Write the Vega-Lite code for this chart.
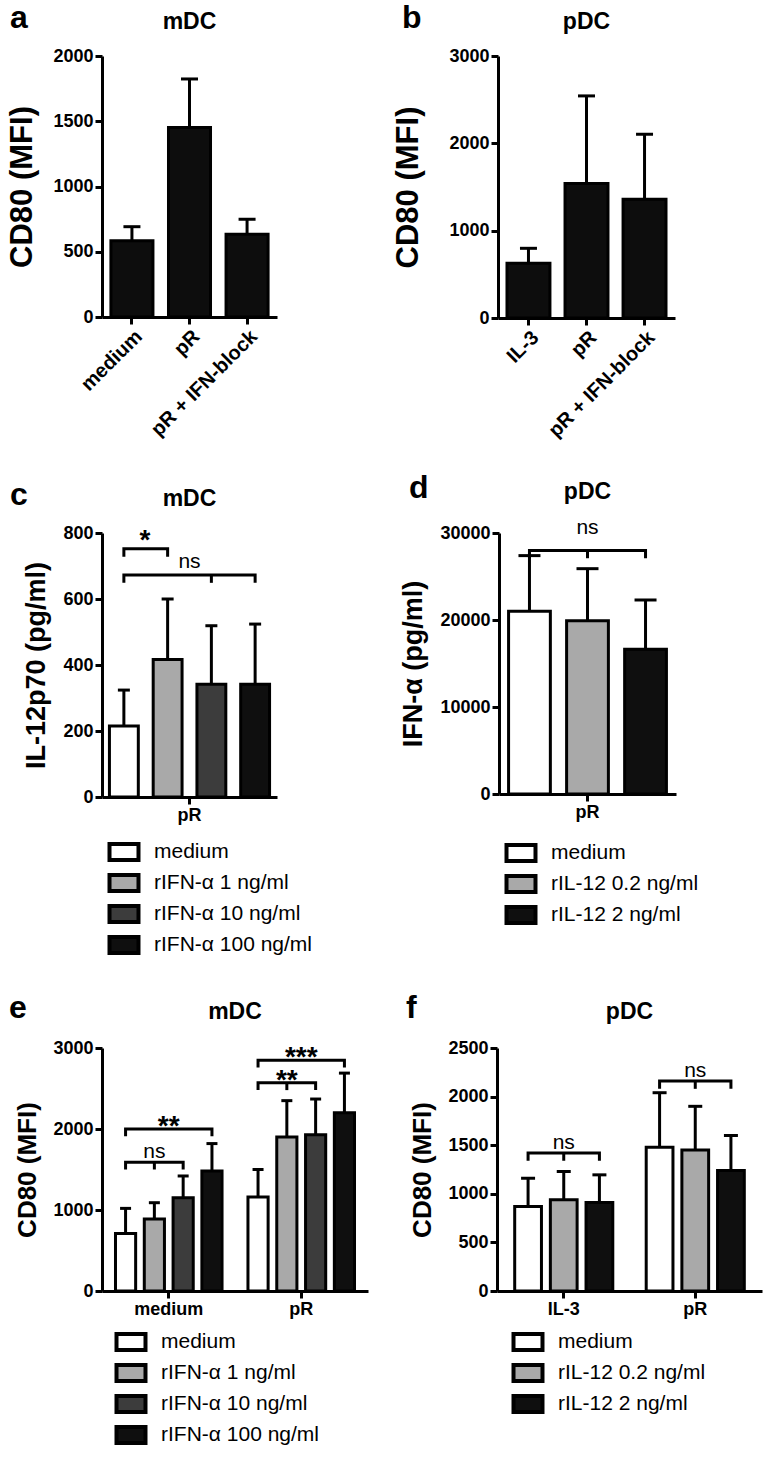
{
  "$schema": "https://vega.github.io/schema/vega-lite/v6.json",
  "background": "white",
  "padding": {"left": 6, "top": 2, "right": 2, "bottom": 2},
  "spacing": 31,
  "resolve": {"scale": {"x": "independent", "y": "independent", "xOffset": "independent", "fill": "independent"}, "legend": {"fill": "independent"}},
  "datasets": {
    "a": [
      {"cond": "medium", "mean": 585, "upper": 692},
      {"cond": "pR", "mean": 1453, "upper": 1824},
      {"cond": "pR + IFN-block", "mean": 634, "upper": 749}
    ],
    "b": [
      {"cond": "IL-3", "mean": 626, "upper": 798},
      {"cond": "pR", "mean": 1541, "upper": 2543},
      {"cond": "pR + IFN-block", "mean": 1360, "upper": 2104}
    ],
    "c": [
      {"g": "pR", "t": "medium", "mean": 215, "upper": 324},
      {"g": "pR", "t": "rIFN-α 1 ng/ml", "mean": 417, "upper": 600},
      {"g": "pR", "t": "rIFN-α 10 ng/ml", "mean": 342, "upper": 519},
      {"g": "pR", "t": "rIFN-α 100 ng/ml", "mean": 342, "upper": 524}
    ],
    "c_br": [
      {"id": "s1", "g": "pR", "t": "medium", "v": 728, "o": 1},
      {"id": "s1", "g": "pR", "t": "medium", "v": 752, "o": 2},
      {"id": "s1", "g": "pR", "t": "rIFN-α 1 ng/ml", "v": 752, "o": 3},
      {"id": "s1", "g": "pR", "t": "rIFN-α 1 ng/ml", "v": 728, "o": 4},
      {"id": "n1", "g": "pR", "t": "medium", "v": 649, "o": 1},
      {"id": "n1", "g": "pR", "t": "medium", "v": 673, "o": 2},
      {"id": "n1", "g": "pR", "t": "rIFN-α 100 ng/ml", "v": 673, "o": 3},
      {"id": "n1", "g": "pR", "t": "rIFN-α 100 ng/ml", "v": 649, "o": 4},
      {"id": "n1m", "g": "pR", "t": "rIFN-α 10 ng/ml", "v": 673, "o": 1},
      {"id": "n1m", "g": "pR", "t": "rIFN-α 10 ng/ml", "v": 649, "o": 2}
    ],
    "d": [
      {"g": "pR", "t": "medium", "mean": 21000, "upper": 27400},
      {"g": "pR", "t": "rIL-12 0.2 ng/ml", "mean": 19900, "upper": 25900},
      {"g": "pR", "t": "rIL-12 2 ng/ml", "mean": 16650, "upper": 22300}
    ],
    "d_br": [
      {"id": "n1", "g": "pR", "t": "medium", "v": 27100, "o": 1},
      {"id": "n1", "g": "pR", "t": "medium", "v": 28000, "o": 2},
      {"id": "n1", "g": "pR", "t": "rIL-12 2 ng/ml", "v": 28000, "o": 3},
      {"id": "n1", "g": "pR", "t": "rIL-12 2 ng/ml", "v": 27100, "o": 4},
      {"id": "n1m", "g": "pR", "t": "rIL-12 0.2 ng/ml", "v": 28000, "o": 1},
      {"id": "n1m", "g": "pR", "t": "rIL-12 0.2 ng/ml", "v": 27100, "o": 2}
    ],
    "e": [
      {"g": "medium", "t": "medium", "mean": 710, "upper": 1020},
      {"g": "medium", "t": "rIFN-α 1 ng/ml", "mean": 890, "upper": 1090},
      {"g": "medium", "t": "rIFN-α 10 ng/ml", "mean": 1150, "upper": 1420},
      {"g": "medium", "t": "rIFN-α 100 ng/ml", "mean": 1480, "upper": 1820},
      {"g": "pR", "t": "medium", "mean": 1160, "upper": 1500},
      {"g": "pR", "t": "rIFN-α 1 ng/ml", "mean": 1900, "upper": 2350},
      {"g": "pR", "t": "rIFN-α 10 ng/ml", "mean": 1930, "upper": 2370},
      {"g": "pR", "t": "rIFN-α 100 ng/ml", "mean": 2200, "upper": 2690}
    ],
    "e_br": [
      {"id": "m1", "g": "medium", "t": "medium", "v": 1500, "o": 1},
      {"id": "m1", "g": "medium", "t": "medium", "v": 1590, "o": 2},
      {"id": "m1", "g": "medium", "t": "rIFN-α 10 ng/ml", "v": 1590, "o": 3},
      {"id": "m1", "g": "medium", "t": "rIFN-α 10 ng/ml", "v": 1500, "o": 4},
      {"id": "m1m", "g": "medium", "t": "rIFN-α 1 ng/ml", "v": 1590, "o": 1},
      {"id": "m1m", "g": "medium", "t": "rIFN-α 1 ng/ml", "v": 1500, "o": 2},
      {"id": "m2", "g": "medium", "t": "medium", "v": 1910, "o": 1},
      {"id": "m2", "g": "medium", "t": "medium", "v": 2000, "o": 2},
      {"id": "m2", "g": "medium", "t": "rIFN-α 100 ng/ml", "v": 2000, "o": 3},
      {"id": "m2", "g": "medium", "t": "rIFN-α 100 ng/ml", "v": 1910, "o": 4},
      {"id": "p1", "g": "pR", "t": "medium", "v": 2480, "o": 1},
      {"id": "p1", "g": "pR", "t": "medium", "v": 2570, "o": 2},
      {"id": "p1", "g": "pR", "t": "rIFN-α 10 ng/ml", "v": 2570, "o": 3},
      {"id": "p1", "g": "pR", "t": "rIFN-α 10 ng/ml", "v": 2480, "o": 4},
      {"id": "p1m", "g": "pR", "t": "rIFN-α 1 ng/ml", "v": 2570, "o": 1},
      {"id": "p1m", "g": "pR", "t": "rIFN-α 1 ng/ml", "v": 2480, "o": 2},
      {"id": "p2", "g": "pR", "t": "medium", "v": 2760, "o": 1},
      {"id": "p2", "g": "pR", "t": "medium", "v": 2850, "o": 2},
      {"id": "p2", "g": "pR", "t": "rIFN-α 100 ng/ml", "v": 2850, "o": 3},
      {"id": "p2", "g": "pR", "t": "rIFN-α 100 ng/ml", "v": 2760, "o": 4}
    ],
    "f": [
      {"g": "IL-3", "t": "medium", "mean": 870, "upper": 1160},
      {"g": "IL-3", "t": "rIL-12 0.2 ng/ml", "mean": 940, "upper": 1230},
      {"g": "IL-3", "t": "rIL-12 2 ng/ml", "mean": 910, "upper": 1195},
      {"g": "pR", "t": "medium", "mean": 1480, "upper": 2040},
      {"g": "pR", "t": "rIL-12 0.2 ng/ml", "mean": 1450, "upper": 1900},
      {"g": "pR", "t": "rIL-12 2 ng/ml", "mean": 1240, "upper": 1600}
    ],
    "f_br": [
      {"id": "i1", "g": "IL-3", "t": "medium", "v": 1340, "o": 1},
      {"id": "i1", "g": "IL-3", "t": "medium", "v": 1420, "o": 2},
      {"id": "i1", "g": "IL-3", "t": "rIL-12 2 ng/ml", "v": 1420, "o": 3},
      {"id": "i1", "g": "IL-3", "t": "rIL-12 2 ng/ml", "v": 1340, "o": 4},
      {"id": "i1m", "g": "IL-3", "t": "rIL-12 0.2 ng/ml", "v": 1420, "o": 1},
      {"id": "i1m", "g": "IL-3", "t": "rIL-12 0.2 ng/ml", "v": 1340, "o": 2},
      {"id": "p1", "g": "pR", "t": "medium", "v": 2080, "o": 1},
      {"id": "p1", "g": "pR", "t": "medium", "v": 2160, "o": 2},
      {"id": "p1", "g": "pR", "t": "rIL-12 2 ng/ml", "v": 2160, "o": 3},
      {"id": "p1", "g": "pR", "t": "rIL-12 2 ng/ml", "v": 2080, "o": 4},
      {"id": "p1m", "g": "pR", "t": "rIL-12 0.2 ng/ml", "v": 2160, "o": 1},
      {"id": "p1m", "g": "pR", "t": "rIL-12 0.2 ng/ml", "v": 2080, "o": 2}
    ]
  },
  "vconcat": [
    {
      "spacing": 115,
      "resolve": {"scale": {"x": "independent", "y": "independent", "xOffset": "independent", "fill": "independent"}, "legend": {"fill": "independent"}},
      "hconcat": [
        {
          "title": {"text": "a", "anchor": "start", "frame": "bounds", "fontSize": 32, "offset": -24, "dx": 3},
          "vconcat": [
            {
              "width": 175, "height": 261,
              "title": {"text": "mDC", "fontSize": 23, "anchor": "middle", "offset": 13},
              "data": {"name": "a"},
              "layer": [
                {"mark": {"type": "bar", "fill": "#0d0d0d", "stroke": "#000", "strokeWidth": 3},
                 "encoding": {
                   "x": {"field": "cond", "type": "nominal", "sort": null, "title": null,
                         "scale": {"paddingInner": 0.27, "paddingOuter": 0.155},
                         "axis": {"labelAngle": -45, "labelFontSize": 20}},
                   "y": {"field": "mean", "type": "quantitative", "title": "CD80 (MFI)",
                         "scale": {"domain": [0, 2000], "nice": false},
                         "axis": {"values": [0, 500, 1000, 1500, 2000], "format": "d", "titleFontSize": 31, "titlePadding": 14}}}},
                {"mark": {"type": "rule", "color": "#000", "strokeWidth": 3},
                 "encoding": {
                   "x": {"field": "cond", "type": "nominal", "sort": null, "title": null},
                   "y": {"field": "mean", "type": "quantitative", "title": "CD80 (MFI)"},
                   "y2": {"field": "upper"}}},
                {"mark": {"type": "tick", "color": "#000", "opacity": 1, "thickness": 3, "size": 17},
                 "encoding": {
                   "x": {"field": "cond", "type": "nominal", "sort": null, "title": null},
                   "y": {"field": "upper", "type": "quantitative", "title": "CD80 (MFI)"}}}
              ]
            }
          ]
        },
        {
          "title": {"text": "b", "anchor": "start", "frame": "bounds", "fontSize": 32, "offset": -24, "dx": 9},
          "vconcat": [
            {
              "width": 177, "height": 262,
              "title": {"text": "pDC", "fontSize": 23, "anchor": "middle", "offset": 13},
              "data": {"name": "b"},
              "layer": [
                {"mark": {"type": "bar", "fill": "#0d0d0d", "stroke": "#000", "strokeWidth": 3},
                 "encoding": {
                   "x": {"field": "cond", "type": "nominal", "sort": null, "title": null,
                         "scale": {"paddingInner": 0.26, "paddingOuter": 0.155},
                         "axis": {"labelAngle": -45, "labelFontSize": 20}},
                   "y": {"field": "mean", "type": "quantitative", "title": "CD80 (MFI)",
                         "scale": {"domain": [0, 3000], "nice": false},
                         "axis": {"values": [0, 1000, 2000, 3000], "format": "d", "titleFontSize": 31, "titlePadding": 24}}}},
                {"mark": {"type": "rule", "color": "#000", "strokeWidth": 3},
                 "encoding": {
                   "x": {"field": "cond", "type": "nominal", "sort": null, "title": null},
                   "y": {"field": "mean", "type": "quantitative", "title": "CD80 (MFI)"},
                   "y2": {"field": "upper"}}},
                {"mark": {"type": "tick", "color": "#000", "opacity": 1, "thickness": 3, "size": 17},
                 "encoding": {
                   "x": {"field": "cond", "type": "nominal", "sort": null, "title": null},
                   "y": {"field": "upper", "type": "quantitative", "title": "CD80 (MFI)"}}}
              ]
            }
          ]
        }
      ]
    },
    {
      "spacing": 86,
      "resolve": {"scale": {"x": "independent", "y": "independent", "xOffset": "independent", "fill": "independent"}, "legend": {"fill": "independent"}},
      "hconcat": [
        {
          "title": {"text": "c", "anchor": "start", "frame": "bounds", "fontSize": 32, "offset": -24, "dx": -13},
          "resolve": {"scale": {"fill": "independent", "xOffset": "independent"}, "legend": {"fill": "independent"}},
          "vconcat": [
            {
              "width": 175, "height": 264,
              "title": {"text": "mDC", "fontSize": 23, "anchor": "middle", "offset": 13},
              "layer": [
                {"data": {"name": "c"},
                 "mark": {"type": "bar", "stroke": "#000", "strokeWidth": 3},
                 "encoding": {
                   "x": {"field": "g", "type": "nominal", "title": null, "scale": {"paddingInner": 0, "paddingOuter": 0}},
                   "xOffset": {"field": "t", "type": "nominal", "sort": null, "scale": {"domain": ["medium", "rIFN-α 1 ng/ml", "rIFN-α 10 ng/ml", "rIFN-α 100 ng/ml"], "paddingInner": 0.34, "paddingOuter": 0.17}},
                   "y": {"field": "mean", "type": "quantitative", "title": "IL-12p70 (pg/ml)",
                         "scale": {"domain": [0, 800], "nice": false},
                         "axis": {"values": [0, 200, 400, 600, 800], "format": "d", "titleFontSize": 27, "titlePadding": 12}},
                   "fill": {"field": "t", "type": "nominal", "sort": null,
                            "scale": {"domain": ["medium", "rIFN-α 1 ng/ml", "rIFN-α 10 ng/ml", "rIFN-α 100 ng/ml"], "range": ["#ffffff", "#a9a9a9", "#3c3c3c", "#0f0f0f"]},
                            "legend": {"orient": "none", "legendX": 7, "legendY": 304}}}},
                {"data": {"name": "c"},
                 "mark": {"type": "rule", "color": "#000", "strokeWidth": 3},
                 "encoding": {
                   "x": {"field": "g", "type": "nominal", "title": null},
                   "xOffset": {"field": "t", "type": "nominal", "sort": null},
                   "y": {"field": "mean", "type": "quantitative", "title": "IL-12p70 (pg/ml)"},
                   "y2": {"field": "upper"}}},
                {"data": {"name": "c"},
                 "mark": {"type": "tick", "color": "#000", "opacity": 1, "thickness": 3, "size": 12},
                 "encoding": {
                   "x": {"field": "g", "type": "nominal", "title": null},
                   "xOffset": {"field": "t", "type": "nominal", "sort": null},
                   "y": {"field": "upper", "type": "quantitative", "title": "IL-12p70 (pg/ml)"}}},
                {"data": {"name": "c_br"},
                 "mark": {"type": "line", "color": "#000", "strokeWidth": 3},
                 "encoding": {
                   "x": {"field": "g", "type": "nominal", "title": null},
                   "xOffset": {"field": "t", "type": "nominal", "sort": null},
                   "y": {"field": "v", "type": "quantitative", "title": "IL-12p70 (pg/ml)"},
                   "detail": {"field": "id"},
                   "order": {"field": "o"}}},
                {"data": {"values": [{"g": "pR", "label": "ns", "v": 673}]},
                 "mark": {"type": "text", "color": "#000", "fontSize": 21, "baseline": "alphabetic", "dy": -7},
                 "encoding": {
                   "x": {"field": "g", "type": "nominal", "title": null},
                   "y": {"field": "v", "type": "quantitative", "title": "IL-12p70 (pg/ml)"},
                   "text": {"field": "label"}}},
                {"data": {"values": [{"g": "pR", "t": "medium", "label": "*", "v": 752}]},
                 "mark": {"type": "text", "color": "#000", "fontSize": 28, "fontWeight": "bold", "baseline": "middle", "dy": -8, "dx": 21},
                 "encoding": {
                   "x": {"field": "g", "type": "nominal", "title": null},
                   "xOffset": {"field": "t", "type": "nominal", "sort": null},
                   "y": {"field": "v", "type": "quantitative", "title": "IL-12p70 (pg/ml)"},
                   "text": {"field": "label"}}}
              ]
            }
          ]
        },
        {
          "title": {"text": "d", "anchor": "start", "frame": "bounds", "fontSize": 32, "offset": -24, "dx": 9},
          "resolve": {"scale": {"fill": "independent", "xOffset": "independent"}, "legend": {"fill": "independent"}},
          "vconcat": [
            {
              "width": 177, "height": 261,
              "title": {"text": "pDC", "fontSize": 23, "anchor": "middle", "offset": 13},
              "layer": [
                {"data": {"name": "d"},
                 "mark": {"type": "bar", "stroke": "#000", "strokeWidth": 3},
                 "encoding": {
                   "x": {"field": "g", "type": "nominal", "title": null, "scale": {"paddingInner": 0, "paddingOuter": 0}},
                   "xOffset": {"field": "t", "type": "nominal", "sort": null, "scale": {"domain": ["medium", "rIL-12 0.2 ng/ml", "rIL-12 2 ng/ml"], "paddingInner": 0.28, "paddingOuter": 0.165}},
                   "y": {"field": "mean", "type": "quantitative", "title": "IFN-α (pg/ml)",
                         "scale": {"domain": [0, 30000], "nice": false},
                         "axis": {"values": [0, 10000, 20000, 30000], "format": "d", "titleFontSize": 27, "titlePadding": 12}},
                   "fill": {"field": "t", "type": "nominal", "sort": null,
                            "scale": {"domain": ["medium", "rIL-12 0.2 ng/ml", "rIL-12 2 ng/ml"], "range": ["#ffffff", "#a9a9a9", "#0f0f0f"]},
                            "legend": {"orient": "none", "legendX": 7, "legendY": 305}}}},
                {"data": {"name": "d"},
                 "mark": {"type": "rule", "color": "#000", "strokeWidth": 3},
                 "encoding": {
                   "x": {"field": "g", "type": "nominal", "title": null},
                   "xOffset": {"field": "t", "type": "nominal", "sort": null},
                   "y": {"field": "mean", "type": "quantitative", "title": "IFN-α (pg/ml)"},
                   "y2": {"field": "upper"}}},
                {"data": {"name": "d"},
                 "mark": {"type": "tick", "color": "#000", "opacity": 1, "thickness": 3, "size": 22},
                 "encoding": {
                   "x": {"field": "g", "type": "nominal", "title": null},
                   "xOffset": {"field": "t", "type": "nominal", "sort": null},
                   "y": {"field": "upper", "type": "quantitative", "title": "IFN-α (pg/ml)"}}},
                {"data": {"name": "d_br"},
                 "mark": {"type": "line", "color": "#000", "strokeWidth": 3},
                 "encoding": {
                   "x": {"field": "g", "type": "nominal", "title": null},
                   "xOffset": {"field": "t", "type": "nominal", "sort": null},
                   "y": {"field": "v", "type": "quantitative", "title": "IFN-α (pg/ml)"},
                   "detail": {"field": "id"},
                   "order": {"field": "o"}}},
                {"data": {"values": [{"g": "pR", "t": "rIL-12 0.2 ng/ml", "label": "ns", "v": 28000}]},
                 "mark": {"type": "text", "color": "#000", "fontSize": 21, "baseline": "alphabetic", "dy": -16},
                 "encoding": {
                   "x": {"field": "g", "type": "nominal", "title": null},
                   "xOffset": {"field": "t", "type": "nominal", "sort": null},
                   "y": {"field": "v", "type": "quantitative", "title": "IFN-α (pg/ml)"},
                   "text": {"field": "label"}}}
              ]
            }
          ]
        }
      ]
    },
    {
      "spacing": 37,
      "resolve": {"scale": {"x": "independent", "y": "independent", "xOffset": "independent", "fill": "independent"}, "legend": {"fill": "independent"}},
      "hconcat": [
        {
          "title": {"text": "e", "anchor": "start", "frame": "bounds", "fontSize": 32, "offset": -24, "dx": -6},
          "resolve": {"scale": {"fill": "independent", "xOffset": "independent"}, "legend": {"fill": "independent"}},
          "vconcat": [
            {
              "width": 266, "height": 243,
              "title": {"text": "mDC", "fontSize": 23, "anchor": "middle", "offset": 15},
              "layer": [
                {"data": {"name": "e"},
                 "mark": {"type": "bar", "stroke": "#000", "strokeWidth": 3},
                 "encoding": {
                   "x": {"field": "g", "type": "nominal", "sort": null, "title": null, "scale": {"paddingInner": 0.174, "paddingOuter": 0.091}},
                   "xOffset": {"field": "t", "type": "nominal", "sort": null, "scale": {"domain": ["medium", "rIFN-α 1 ng/ml", "rIFN-α 10 ng/ml", "rIFN-α 100 ng/ml"], "paddingInner": 0.3, "paddingOuter": 0.05}},
                   "y": {"field": "mean", "type": "quantitative", "title": "CD80 (MFI)",
                         "scale": {"domain": [0, 3000], "nice": false},
                         "axis": {"values": [0, 1000, 2000, 3000], "format": "d", "titleFontSize": 26, "titlePadding": 12}},
                   "fill": {"field": "t", "type": "nominal", "sort": null,
                            "scale": {"domain": ["medium", "rIFN-α 1 ng/ml", "rIFN-α 10 ng/ml", "rIFN-α 100 ng/ml"], "range": ["#ffffff", "#a9a9a9", "#3c3c3c", "#0f0f0f"]},
                            "legend": {"orient": "none", "legendX": 14, "legendY": 279}}}},
                {"data": {"name": "e"},
                 "mark": {"type": "rule", "color": "#000", "strokeWidth": 3},
                 "encoding": {
                   "x": {"field": "g", "type": "nominal", "sort": null, "title": null},
                   "xOffset": {"field": "t", "type": "nominal", "sort": null},
                   "y": {"field": "mean", "type": "quantitative", "title": "CD80 (MFI)"},
                   "y2": {"field": "upper"}}},
                {"data": {"name": "e"},
                 "mark": {"type": "tick", "color": "#000", "opacity": 1, "thickness": 3, "size": 11},
                 "encoding": {
                   "x": {"field": "g", "type": "nominal", "sort": null, "title": null},
                   "xOffset": {"field": "t", "type": "nominal", "sort": null},
                   "y": {"field": "upper", "type": "quantitative", "title": "CD80 (MFI)"}}},
                {"data": {"name": "e_br"},
                 "mark": {"type": "line", "color": "#000", "strokeWidth": 3},
                 "encoding": {
                   "x": {"field": "g", "type": "nominal", "sort": null, "title": null},
                   "xOffset": {"field": "t", "type": "nominal", "sort": null},
                   "y": {"field": "v", "type": "quantitative", "title": "CD80 (MFI)"},
                   "detail": {"field": "id"},
                   "order": {"field": "o"}}},
                {"data": {"values": [{"g": "medium", "t": "rIFN-α 1 ng/ml", "label": "ns", "v": 1590}]},
                 "mark": {"type": "text", "color": "#000", "fontSize": 21, "baseline": "alphabetic", "dy": -4},
                 "encoding": {
                   "x": {"field": "g", "type": "nominal", "sort": null, "title": null},
                   "xOffset": {"field": "t", "type": "nominal", "sort": null},
                   "y": {"field": "v", "type": "quantitative", "title": "CD80 (MFI)"},
                   "text": {"field": "label"}}},
                {"data": {"values": [{"g": "pR", "t": "rIFN-α 1 ng/ml", "label": "**", "v": 2570}]},
                 "mark": {"type": "text", "color": "#000", "fontSize": 28, "fontWeight": "bold", "baseline": "middle", "dy": -2},
                 "encoding": {
                   "x": {"field": "g", "type": "nominal", "sort": null, "title": null},
                   "xOffset": {"field": "t", "type": "nominal", "sort": null},
                   "y": {"field": "v", "type": "quantitative", "title": "CD80 (MFI)"},
                   "text": {"field": "label"}}},
                {"data": {"values": [{"g": "medium", "label": "**", "v": 2000}, {"g": "pR", "label": "***", "v": 2850}]},
                 "mark": {"type": "text", "color": "#000", "fontSize": 28, "fontWeight": "bold", "baseline": "middle", "dy": -2},
                 "encoding": {
                   "x": {"field": "g", "type": "nominal", "sort": null, "title": null},
                   "y": {"field": "v", "type": "quantitative", "title": "CD80 (MFI)"},
                   "text": {"field": "label"}}}
              ]
            }
          ]
        },
        {
          "title": {"text": "f", "anchor": "start", "frame": "bounds", "fontSize": 32, "offset": -24, "dx": -4},
          "resolve": {"scale": {"fill": "independent", "xOffset": "independent"}, "legend": {"fill": "independent"}},
          "vconcat": [
            {
              "width": 265, "height": 243,
              "title": {"text": "pDC", "fontSize": 23, "anchor": "middle", "offset": 15},
              "layer": [
                {"data": {"name": "f"},
                 "mark": {"type": "bar", "stroke": "#000", "strokeWidth": 3},
                 "encoding": {
                   "x": {"field": "g", "type": "nominal", "sort": null, "title": null, "scale": {"paddingInner": 0.227, "paddingOuter": 0.121}},
                   "xOffset": {"field": "t", "type": "nominal", "sort": null, "scale": {"domain": ["medium", "rIL-12 0.2 ng/ml", "rIL-12 2 ng/ml"], "paddingInner": 0.25, "paddingOuter": 0.05}},
                   "y": {"field": "mean", "type": "quantitative", "title": "CD80 (MFI)",
                         "scale": {"domain": [0, 2500], "nice": false},
                         "axis": {"values": [0, 500, 1000, 1500, 2000, 2500], "format": "d", "titleFontSize": 26, "titlePadding": 12}},
                   "fill": {"field": "t", "type": "nominal", "sort": null,
                            "scale": {"domain": ["medium", "rIL-12 0.2 ng/ml", "rIL-12 2 ng/ml"], "range": ["#ffffff", "#a9a9a9", "#0f0f0f"]},
                            "legend": {"orient": "none", "legendX": 16, "legendY": 279}}}},
                {"data": {"name": "f"},
                 "mark": {"type": "rule", "color": "#000", "strokeWidth": 3},
                 "encoding": {
                   "x": {"field": "g", "type": "nominal", "sort": null, "title": null},
                   "xOffset": {"field": "t", "type": "nominal", "sort": null},
                   "y": {"field": "mean", "type": "quantitative", "title": "CD80 (MFI)"},
                   "y2": {"field": "upper"}}},
                {"data": {"name": "f"},
                 "mark": {"type": "tick", "color": "#000", "opacity": 1, "thickness": 3, "size": 14},
                 "encoding": {
                   "x": {"field": "g", "type": "nominal", "sort": null, "title": null},
                   "xOffset": {"field": "t", "type": "nominal", "sort": null},
                   "y": {"field": "upper", "type": "quantitative", "title": "CD80 (MFI)"}}},
                {"data": {"name": "f_br"},
                 "mark": {"type": "line", "color": "#000", "strokeWidth": 3},
                 "encoding": {
                   "x": {"field": "g", "type": "nominal", "sort": null, "title": null},
                   "xOffset": {"field": "t", "type": "nominal", "sort": null},
                   "y": {"field": "v", "type": "quantitative", "title": "CD80 (MFI)"},
                   "detail": {"field": "id"},
                   "order": {"field": "o"}}},
                {"data": {"values": [{"g": "IL-3", "t": "rIL-12 0.2 ng/ml", "label": "ns", "v": 1420}, {"g": "pR", "t": "rIL-12 0.2 ng/ml", "label": "ns", "v": 2160}]},
                 "mark": {"type": "text", "color": "#000", "fontSize": 21, "baseline": "alphabetic", "dy": -4},
                 "encoding": {
                   "x": {"field": "g", "type": "nominal", "sort": null, "title": null},
                   "xOffset": {"field": "t", "type": "nominal", "sort": null},
                   "y": {"field": "v", "type": "quantitative", "title": "CD80 (MFI)"},
                   "text": {"field": "label"}}}
              ]
            }
          ]
        }
      ]
    }
  ],
  "config": {
    "font": "Liberation Sans",
    "view": {"stroke": null},
    "axis": {
      "grid": false,
      "domainColor": "#000", "domainWidth": 3,
      "tickColor": "#000", "tickWidth": 3, "tickSize": 7,
      "labelColor": "#000", "labelFont": "Liberation Sans", "labelFontWeight": "bold", "labelFontSize": 18, "labelPadding": 2,
      "titleColor": "#000", "titleFont": "Liberation Sans", "titleFontWeight": "bold"
    },
    "axisX": {"labelAngle": 0},
    "legend": {
      "title": null,
      "direction": "vertical",
      "symbolType": "M-1.115,-0.615H1.115V0.615H-1.115Z",
      "symbolSize": 676,
      "symbolStrokeColor": "#000",
      "symbolStrokeWidth": 4,
      "symbolOpacity": 1,
      "labelFont": "Liberation Sans",
      "labelFontSize": 21,
      "labelColor": "#000",
      "labelOffset": 15,
      "labelLimit": 400,
      "rowPadding": -3
    },
    "title": {"color": "#000", "font": "Liberation Sans", "fontWeight": "bold"}
  }
}
